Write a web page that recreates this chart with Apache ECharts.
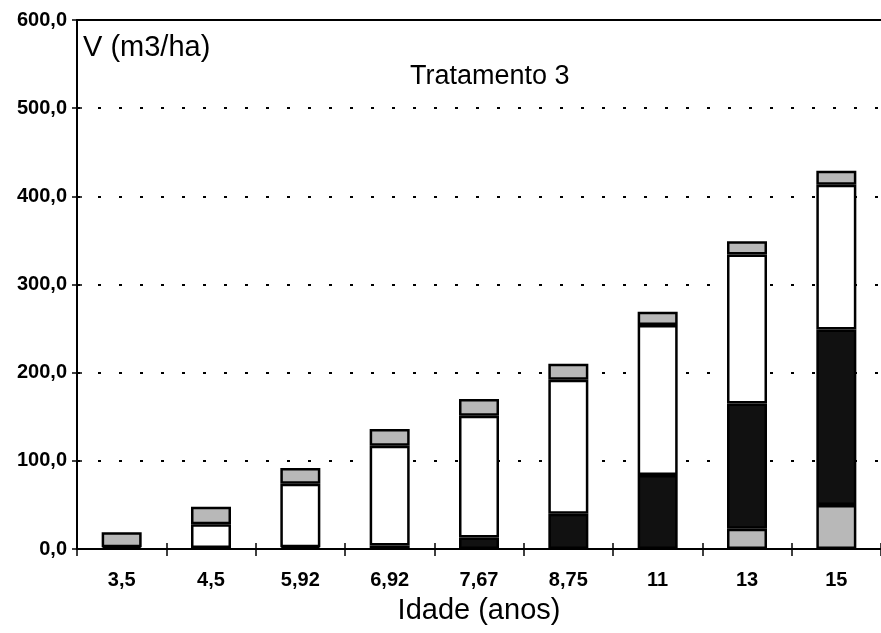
<!DOCTYPE html>
<html>
<head>
<meta charset="utf-8">
<script src="https://cdn.jsdelivr.net/npm/echarts@6/dist/echarts.min.js"></script>
<style>html,body{margin:0;padding:0;background:#fff}#c{width:881px;height:633px}</style>
</head>
<body>
<div id="c"></div>
<script>
var categories = ['3,5', '4,5', '5,92', '6,92', '7,67', '8,75', '11', '13', '15'];
var baseGray = [null, null, null, null, null, null, null, 23, 50];
var darkPart = [2, 1, 2, 4, 13, 40, 84, 142, 199];
var whitePart = [null, 27, 72, 113, 138, 152, 170, 169, 164];
var topGray = [17, 20, 18, 19, 19, 18, 15, 15, 16];
var yTicks = [0, 100, 200, 300, 400, 500, 600];

var chart = echarts.init(document.getElementById('c'), null, {renderer: 'canvas'});
var FONT = 'Liberation Sans, Arial, sans-serif';
function seg(name, data, color) {
  return {
    name: name, type: 'bar', stack: 'v', data: data, barWidth: 40,
    xAxisIndex: 0, yAxisIndex: 0,
    itemStyle: {color: color, borderColor: '#000', borderWidth: 2.5},
    emphasis: {disabled: true}, animation: false
  };
}
chart.setOption({
  animation: false,
  backgroundColor: '#fff',
  grid: {left: 77, right: 0, top: 20, bottom: 84, containLabel: false, outerBoundsMode: 'none'},
  title: [
    {text: 'V (m3/ha)', left: 78, top: 28, textStyle: {fontFamily: FONT, fontSize: 29, fontWeight: 'normal', color: '#000'}},
    {text: 'Tratamento 3', left: 405, top: 58, textStyle: {fontFamily: FONT, fontSize: 27, fontWeight: 'normal', color: '#000'}}
  ],
  xAxis: [
    {type: 'category', data: categories, position: 'bottom',
     axisLine: {lineStyle: {color: '#000', width: 2}},
     axisTick: {show: true, length: 7, lineStyle: {color: '#000', width: 1.5}},
     axisLabel: {color: '#000', fontFamily: FONT, fontSize: 20, fontWeight: 'bold', margin: 21},
     name: 'Idade (anos)', nameLocation: 'middle', nameGap: 47,
     nameTextStyle: {color: '#000', fontFamily: FONT, fontSize: 29}},
    {type: 'category', data: categories, position: 'top',
     axisLine: {show: true, onZero: false, lineStyle: {color: '#000', width: 2}},
     axisTick: {show: false}, axisLabel: {show: false}},
    {type: 'category', data: categories, position: 'bottom',
     axisLine: {show: false},
     axisTick: {show: true, inside: true, length: 6, lineStyle: {color: '#000', width: 1.5}},
     axisLabel: {show: false}}
  ],
  yAxis: [
    {type: 'value', min: 0, max: 600, interval: 100,
     axisLine: {show: true, lineStyle: {color: '#000', width: 2}},
     axisTick: {show: true, length: 5, lineStyle: {color: '#000', width: 1.5}},
     axisLabel: {color: '#000', fontFamily: FONT, fontSize: 20, fontWeight: 'bold', margin: 10,
       formatter: function (v) { return yTicks.indexOf(v) >= 0 ? v.toFixed(1).replace('.', ',') : ''; }},
     splitLine: {show: true, lineStyle: {color: '#000', width: 2, type: [3, 18]}}},
    {type: 'value', min: 0, max: 600, interval: 100, position: 'left',
     axisLine: {show: false},
     axisTick: {show: true, inside: true, length: 5, lineStyle: {color: '#000', width: 1.5}},
     axisLabel: {show: false}, splitLine: {show: false}}
  ],
  series: [
    seg('base', baseGray, '#b8b8b8'),
    seg('dark', darkPart, '#111111'),
    seg('white', whitePart, '#ffffff'),
    seg('top', topGray, '#b8b8b8')
  ]
});
</script>
</body>
</html>
